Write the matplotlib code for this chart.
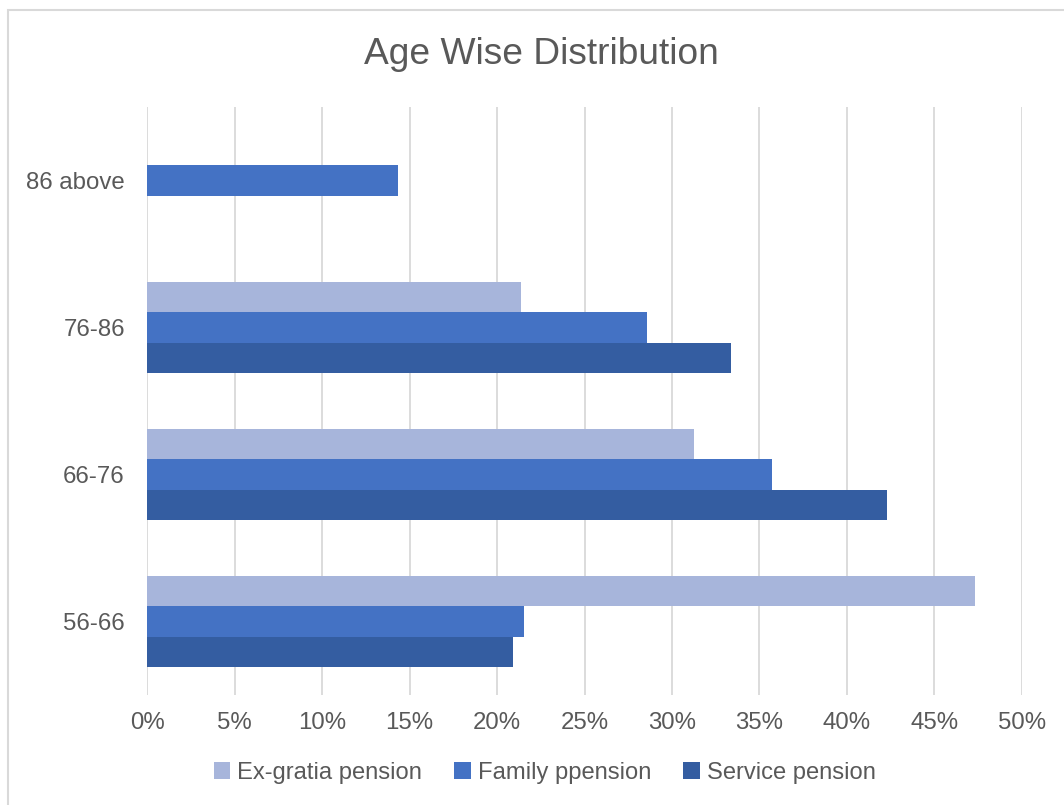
import numpy as np
import matplotlib.pyplot as plt
from matplotlib.patches import Rectangle
from matplotlib.ticker import FuncFormatter

plt.rcParams["font.family"] = ["Liberation Sans", "DejaVu Sans"]

categories = ["56-66", "66-76", "76-86", "86 above"]
ex_gratia = [47.33, 31.26, 21.35, 0.0]
family = [21.54, 35.71, 28.59, 14.36]
service = [20.91, 42.29, 33.39, 0.0]
series_names = ["Ex-gratia pension", "Family ppension", "Service pension"]
colors = ["#A7B5DB", "#4472C4", "#345DA1"]

text_col = "#595959"
grid_col = "#D9D9D9"

fig = plt.figure(figsize=(10.64, 8.05), dpi=100)
ax = fig.add_axes([0.1382, 0.1366, 0.8223, 0.7305])

y = np.arange(len(categories))
h = 0.205
for vals, off, col, name in zip([ex_gratia, family, service], [h, 0, -h], colors, series_names):
    ax.barh(y + off, vals, height=h, color=col, label=name, zorder=3)

ax.set_xlim(0, 50)
ax.set_ylim(-0.5, 3.5)
ax.set_xticks(np.arange(0, 51, 5))
ax.xaxis.set_major_formatter(FuncFormatter(lambda v, p: f"{v:.0f}%"))
ax.set_yticks(y)
ax.set_yticklabels(categories)
ax.tick_params(axis="x", length=0, pad=12, labelsize=17.3, labelcolor=text_col)
ax.tick_params(axis="y", length=0, pad=16, labelsize=17.3, labelcolor=text_col)
ax.grid(axis="x", color=grid_col, linewidth=1.3, zorder=0)
for s in ax.spines.values():
    s.set_visible(False)

fig.text(0.509, 0.932, "Age Wise Distribution", ha="center", va="center",
         fontsize=26.7, color=text_col)

leg = fig.legend(loc="center", bbox_to_anchor=(0.512, 0.04), ncol=3, frameon=False,
                 fontsize=17.1, handlelength=0.7, handleheight=0.7, handletextpad=0.3,
                 columnspacing=1.35)
for t in leg.get_texts():
    t.set_color(text_col)

fig.patches.append(Rectangle((8 / 1064, -0.1), 1.2, 1 - 10 / 805 + 0.1,
                             transform=fig.transFigure, fill=False,
                             edgecolor=grid_col, linewidth=1.5))

fig.savefig("out.png", dpi=100)
